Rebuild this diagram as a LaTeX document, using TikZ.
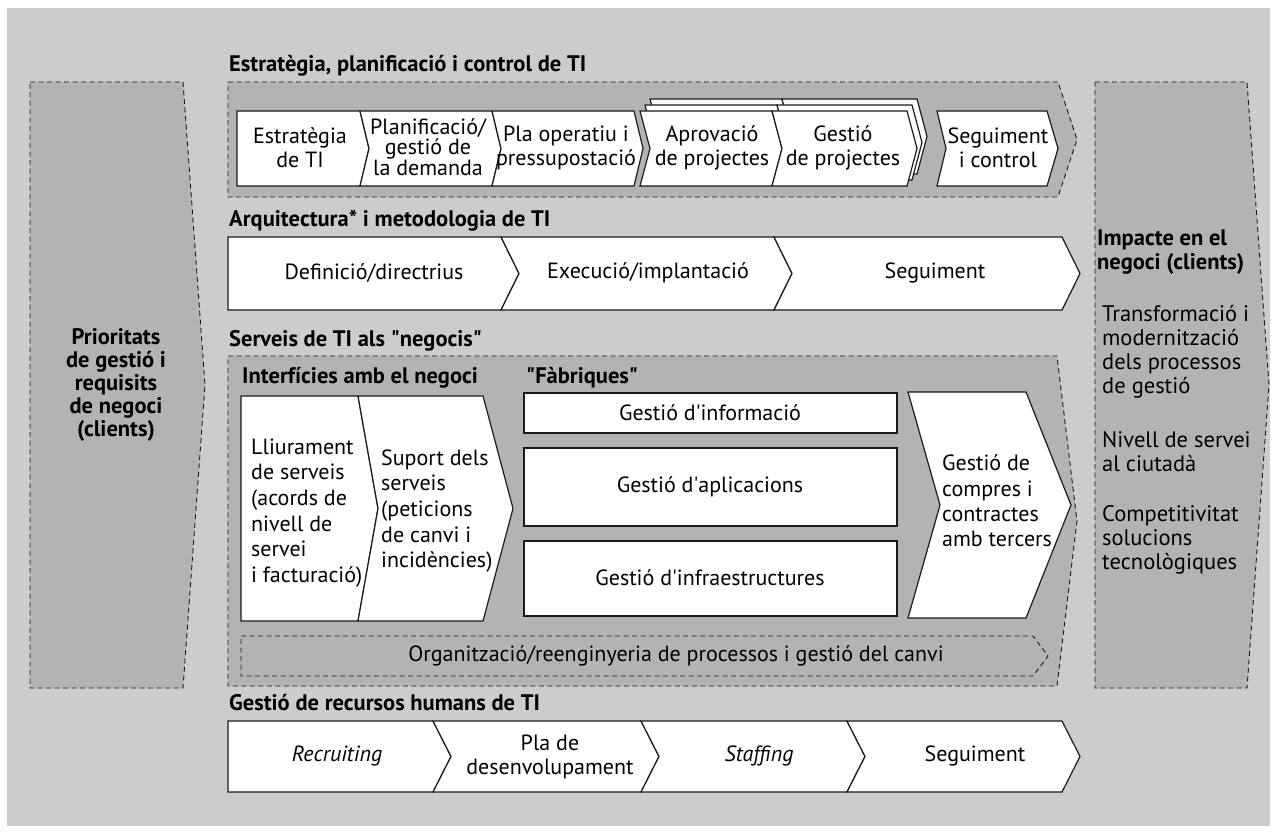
\documentclass[tikz,border=0pt]{standalone}
\usepackage{fontspec}
\setmainfont{PT Sans}
\definecolor{bgray}{HTML}{CCCCCC}
\definecolor{pgray}{HTML}{B3B3B3}
\definecolor{lineC}{HTML}{1A1A1A}
\newcommand\Shp[7][]{\path[#1] (#2,#4) -- (#3,#4) -- ({#3+#7},{(#4+#5)/2}) -- (#3,#5) -- (#2,#5) -- ({#2+#6},{(#4+#5)/2}) -- cycle;}
\begin{document}
\begin{tikzpicture}[x=1pt,y=-1pt,
  bgsty/.style={fill=bgray},
  panelsty/.style={fill=pgray, draw=lineC, line width=0.9pt, dash pattern=on 5pt off 3.5pt},
  subpanel/.style={draw=lineC, line width=0.9pt, dash pattern=on 5pt off 3.5pt},
  boxsty/.style={fill=white, draw=lineC, line width=1.2pt, line join=miter},
  txt/.style={font=\fontsize{22}{24}\selectfont, align=center, inner sep=0pt},
  ltxt/.style={font=\fontsize{22}{25.6}\selectfont, align=left, inner sep=0pt, anchor=west},
  ttl/.style={font=\bfseries\fontsize{22.5}{24}\selectfont, anchor=base west, inner sep=0pt}]
\useasboundingbox (0,0) rectangle (1277,834);
\fill[bgsty] (7,8) rectangle (1270,826);
% side panels
\Shp[panelsty]{30}{183}{82}{688}{0}{22}
\Shp[panelsty]{1095}{1247}{82}{688}{0}{22}
% big panels
\Shp[panelsty]{228}{1058}{82}{197}{0}{19}
\Shp[panelsty]{228}{1057}{356}{686}{0}{20}
% titles
\node[ttl] (tStrat) at (229,72) {Estratègia, planificació i control de TI};
\node[ttl] (tArq) at (229,227) {Arquitectura* i metodologia de TI};
\node[ttl] (tServ) at (229,346) {Serveis de TI als \textquotedbl negocis\textquotedbl};
\node[ttl] (tRH) at (229,710) {Gestió de recursos humans de TI};
\node[ttl] (tInt) at (242,383) {Interfícies amb el negoci};
\node[ttl] (tFab) at (526,383) {\textquotedbl Fàbriques\textquotedbl};
% top row
\Shp[boxsty]{237}{360}{111}{186}{0}{9}
\Shp[boxsty]{360}{492}{111}{186}{9}{9}
\Shp[boxsty]{492}{634}{111}{186}{9}{9}
\begin{scope}[shift={(10,-12)}]
\Shp[boxsty]{640}{772}{111}{186}{10}{10}
\Shp[boxsty]{772}{907}{111}{186}{10}{10}
\end{scope}
\begin{scope}[shift={(5,-6)}]
\Shp[boxsty]{640}{772}{111}{186}{10}{10}
\Shp[boxsty]{772}{907}{111}{186}{10}{10}
\end{scope}
\Shp[boxsty]{640}{772}{111}{186}{10}{10}
\Shp[boxsty]{772}{907}{111}{186}{10}{10}
\Shp[boxsty]{937}{1047}{111}{186}{9}{11}
\node[txt] (s1) at (300,148) {Estratègia\\de TI};
\node[txt, font=\fontsize{22}{18}\selectfont] (s2) at (428,147) {Planificació/\\gestió de\\la demanda};
\node[txt] (s3) at (566,148) {Pla operatiu i\\pressupostació};
\node[txt] (s4) at (712,148) {Aprovació\\de projectes};
\node[txt] (s5) at (843,148) {Gestió\\de projectes};
\node[txt] (s6) at (998,148) {Seguiment\\i control};
% architecture row
\Shp[boxsty]{228}{501}{237}{310}{0}{18}
\Shp[boxsty]{501}{774}{237}{310}{18}{18}
\Shp[boxsty]{774}{1062}{237}{310}{18}{18}
\node[txt] (a1) at (374,273) {Definició/directrius};
\node[txt] (a2) at (648,273) {Execució/implantació};
\node[txt] (a3) at (935,273) {Seguiment};
% services
\Shp[boxsty]{241}{358}{396}{621}{0}{20}
\Shp[boxsty]{358}{483}{396}{621}{20}{30}
\node[ltxt] (i1) at (251,513) {Lliurament\\de serveis\\(acords de\\nivell de\\servei\\i facturació)};
\node[ltxt] (i2) at (381,511) {Suport dels\\serveis\\(peticions\\de canvi i\\incidències)};
\draw[boxsty] (524,393) rectangle (897,433);
\draw[boxsty] (524,448) rectangle (897,526);
\draw[boxsty] (524,541) rectangle (897,616);
\node[txt] (f1) at (710,413) {Gestió d\textquotesingle informació};
\node[txt] (f2) at (710,487) {Gestió d\textquotesingle aplicacions};
\node[txt] (f3) at (710,578) {Gestió d\textquotesingle infraestructures};
\Shp[boxsty]{908}{1026}{392}{618}{32}{45}
\node[ltxt, font=\fontsize{22}{25.4}\selectfont] (c1) at (942,501) {Gestió de\\compres i\\contractes\\amb tercers};
\Shp[subpanel]{241}{1033}{636}{676}{0}{15}
\node[txt] (o1) at (676,656) {Organització/reenginyeria de processos i gestió del canvi};
% HR row
\Shp[boxsty]{228}{433}{721}{792}{0}{18}
\Shp[boxsty]{433}{641}{721}{792}{18}{18}
\Shp[boxsty]{641}{847}{721}{792}{18}{18}
\Shp[boxsty]{847}{1062}{721}{792}{18}{18}
\node[txt] (h1) at (337,756) {\itshape Recruiting};
\node[txt] (h2) at (550,757) {Pla de\\desenvolupament};
\node[txt] (h3) at (759,756) {\itshape Staffing};
\node[txt] (h4) at (975,756) {Seguiment};
% side texts
\node[txt, font=\bfseries\fontsize{22.5}{22.8}\selectfont] (lp) at (116,385) {Prioritats\\de gestió i\\requisits\\de negoci\\(clients)};
\node[ltxt, font=\bfseries\fontsize{22.5}{24}\selectfont] (rp0) at (1097,252) {Impacte en el\\negoci (clients)};
\node[ltxt, font=\fontsize{22.5}{24}\selectfont] (rp1) at (1102,352) {Transformació i\\modernització\\dels processos\\de gestió};
\node[ltxt, font=\fontsize{22.5}{24}\selectfont] (rp2) at (1102,452) {Nivell de servei\\al ciutadà};
\node[ltxt, font=\fontsize{22.5}{24}\selectfont] (rp3) at (1102,540) {Competitivitat\\solucions\\tecnològiques};
\end{tikzpicture}
\end{document}
